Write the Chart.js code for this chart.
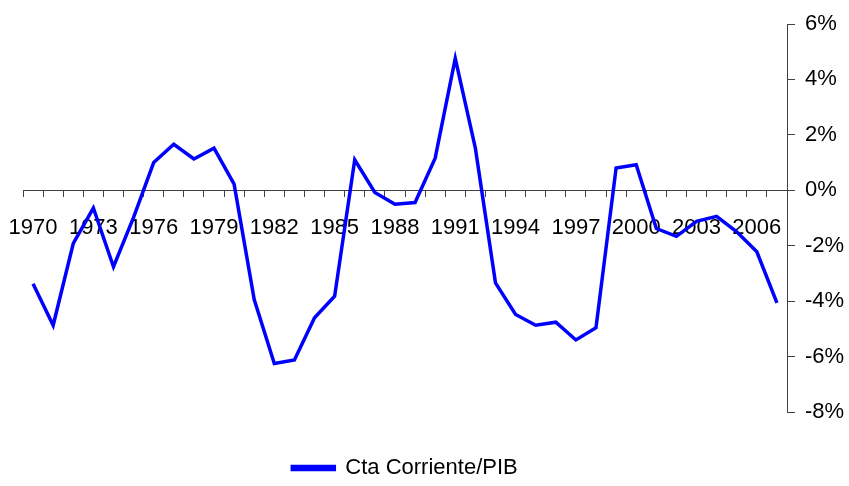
<!DOCTYPE html>
<html>
<head>
<meta charset="utf-8">
<script src="https://cdn.jsdelivr.net/npm/chart.js@4"></script>
<style>
  html, body { margin: 0; padding: 0; background: #fff; }
  #wrap { width: 849px; height: 486px; }
</style>
</head>
<body>
<div id="wrap"><canvas id="chart" width="849" height="486"></canvas></div>
<script>
// data
const years = ['1970','1971','1972','1973','1974','1975','1976','1977','1978','1979',
               '1980','1981','1982','1983','1984','1985','1986','1987','1988','1989',
               '1990','1991','1992','1993','1994','1995','1996','1997','1998','1999',
               '2000','2001','2002','2003','2004','2005','2006','2007'];
const ctaCorriente = [-3.37, -4.87, -1.92, -0.64, -2.76, -0.98, 1.00, 1.66, 1.13, 1.52,
                      0.22, -3.94, -6.25, -6.12, -4.60, -3.82, 1.10, -0.08, -0.50, -0.44,
                      1.16, 4.76, 1.52, -3.34, -4.48, -4.87, -4.76, -5.40, -4.96, 0.80,
                      0.92, -1.38, -1.66, -1.12, -0.94, -1.50, -2.22, -4.06];
const shownYears = ['1970','1973','1976','1979','1982','1985','1988','1991','1994','1997','2000','2003','2006'];
const yMin = -8, yMax = 6, yStep = 2;

const font = { family: "'Liberation Sans', Arial, sans-serif", size: 22 };
const axisColor = '#404040';

new Chart(document.getElementById('chart').getContext('2d'), {
    type: 'line',
    data: {
        labels: years,
        datasets: [{
            label: 'Cta Corriente/PIB',
            data: ctaCorriente,
            borderColor: '#0000ff',
            backgroundColor: '#0000ff',
            borderWidth: 3.5,
            pointRadius: 0,
            tension: 0,
            fill: false
        }]
    },
    options: {
        responsive: false,
        animation: false,
        layout: { padding: { left: 23, top: 24, right: 0, bottom: -3 } },
        plugins: {
            legend: {
                position: 'bottom',
                fullSize: false,
                labels: {
                    color: '#000',
                    font: font,
                    boxWidth: 42,
                    boxHeight: 3,
                    padding: 45
                }
            },
            tooltip: { enabled: false }
        },
        scales: {
            x: {
                type: 'category',
                position: { y: 0 },
                offset: true,
                grid: {
                    offset: true,
                    drawOnChartArea: false,
                    drawTicks: true,
                    tickLength: 6,
                    color: axisColor
                },
                border: { display: true, color: axisColor, width: 1 },
                ticks: {
                    autoSkip: false,
                    maxRotation: 0,
                    minRotation: 0,
                    padding: 18,
                    color: '#000',
                    font: font,
                    callback: function(val, i) {
                        const y = years[i];
                        return shownYears.includes(y) ? y : '';
                    }
                },
                afterFit: s => { s.paddingLeft = 0; s.paddingRight = 0; }
            },
            y: {
                position: 'right',
                min: yMin,
                max: yMax,
                grid: {
                    drawOnChartArea: false,
                    drawTicks: true,
                    tickLength: 8,
                    color: axisColor
                },
                border: { display: true, color: axisColor, width: 1 },
                ticks: {
                    stepSize: yStep,
                    padding: 10,
                    color: '#000',
                    font: font,
                    callback: v => v + '%'
                },
                afterFit: s => { s.width = 62; }
            }
        }
    }
});
</script>
</body>
</html>
